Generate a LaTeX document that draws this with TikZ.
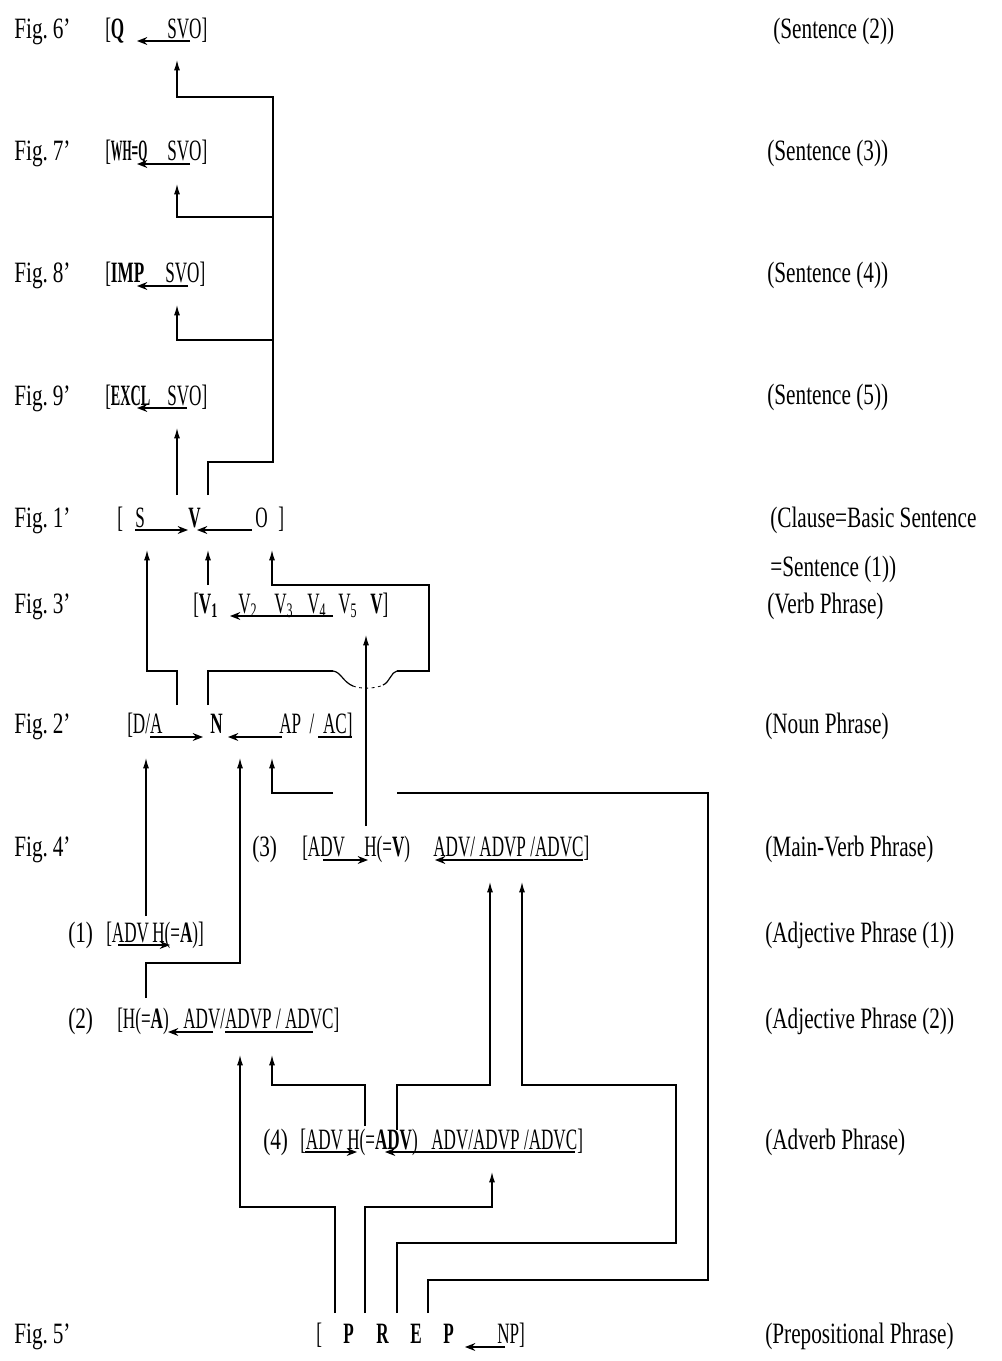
\documentclass[tikz,border=0pt]{standalone}
\usepackage{fontspec}
\usepackage{graphicx}
\setmainfont[FakeStretch=0.72]{Liberation Serif}
\newfontfamily\narrowfont[FakeStretch=0.58]{Liberation Serif}
\usetikzlibrary{arrows.meta,calc}
\newcommand{\fs}{\fontsize{21}{24}\selectfont}
\newcommand{\sq}[2]{\scalebox{#1}[1]{#2}}
\tikzset{
  txt/.style={anchor=base west, inner sep=0pt, font=\fs},
  form/.style={txt, font=\fs\narrowfont},
  wire/.style={line width=0.85pt, draw=black},
  uparr/.style={wire, -{Latex[length=2.6mm,width=1.5mm]}},
  ularr/.style={wire, -{Stealth[length=2.6mm,width=2.0mm,inset=0.9mm]}},
  hopdash/.style={wire, line width=0.6pt, dash pattern=on 2pt off 2.5pt}
}
\begin{document}
\begin{tikzpicture}[x=0.25mm,y=-0.25mm]
  \useasboundingbox (0,0) rectangle (1002,1361);

  % figure numbers
  \node[txt] (fig6) at (14,38)   {Fig.\,6'};
  \node[txt] (fig7) at (14,160)  {Fig.\,7'};
  \node[txt] (fig8) at (14,282)  {Fig.\,8'};
  \node[txt] (fig9) at (14,405)  {Fig.\,9'};
  \node[txt] (fig1) at (14,527)  {Fig.\,1'};
  \node[txt] (fig3) at (14,613)  {Fig.\,3'};
  \node[txt] (fig2) at (14,733)  {Fig.\,2'};
  \node[txt] (fig4) at (14,856)  {Fig.\,4'};
  \node[txt] (fig5) at (14,1343) {Fig.\,5'};

  % names on the right
  \node[txt] (lab6) at (773,38)   {(Sentence (2))};
  \node[txt] (lab7) at (767,160)  {(Sentence (3))};
  \node[txt] (lab8) at (767,282)  {(Sentence (4))};
  \node[txt] (lab9) at (767,404)  {(Sentence (5))};
  \node[txt] (lab1) at (770,527)  {(Clause=Basic Sentence};
  \node[txt] (lab1b) at (770,576) {=Sentence (1))};
  \node[txt] (lab3) at (767,613)  {(Verb Phrase)};
  \node[txt] (lab2) at (765,733)  {(Noun Phrase)};
  \node[txt] (lab4) at (765,856)  {(Main-Verb Phrase)};
  \node[txt] (labA1) at (765,942) {(Adjective Phrase (1))};
  \node[txt] (labA2) at (765,1028) {(Adjective Phrase (2))};
  \node[txt] (labAv) at (765,1149) {(Adverb Phrase)};
  \node[txt] (lab5) at (765,1343) {(Prepositional Phrase)};

  % sentence types
  \node[form] (q6) at (105,38)  {[\textbf{Q}};
  \node[form] (svo6) at (167,38)  {SVO]};
  \node[form] (q7) at (105,160) {[\sq{0.68}{\textbf{WH=Q}}};
  \node[form] (svo7) at (167,160) {SVO]};
  \node[form] (q8) at (105,282) {[\textbf{IMP}};
  \node[form] (svo8) at (165,282) {SVO]};
  \node[form] (q9) at (105,405) {[\sq{0.83}{\textbf{EXCL}}};
  \node[form] (svo9) at (167,405) {SVO]};

  % clause
  \node[form] (cl1) at (117,527) {[};
  \node[form] (cS) at (135,527) {S};
  \node[form] (cV) at (188,527) {\textbf{V}};
  \node[form] (cO) at (255,527) {O};
  \node[form] (cr1) at (278,527) {]};

  % verb phrase
  \node[form] (v1) at (193,613) {[\textbf{V\textsubscript{1}}};
  \node[form] (v2) at (238,613) {V\textsubscript{2}};
  \node[form] (v3) at (274,613) {V\textsubscript{3}};
  \node[form] (v4) at (307,613) {V\textsubscript{4}};
  \node[form] (v5) at (338,613) {V\textsubscript{5}};
  \node[form] (vv) at (370,613) {\textbf{V}]};

  % noun phrase
  \node[form] (da) at (127,733) {[D/A};
  \node[form] (nn) at (210,733) {\textbf{N}};
  \node[form] (apac) at (279,733) {AP\ \ /\ \ AC]};

  % main-verb phrase
  \node[txt] (n3) at (252,856) {(3)};
  \node[form] (adv3) at (302,856) {[ADV};
  \node[form] (h3) at (364,856) {H(=\textbf{V})};
  \node[form] (post3) at (433,856) {ADV/ ADVP /ADVC]};

  % adjective phrases
  \node[txt] (n1) at (68,942) {(1)};
  \node[form] (adv1) at (106,942) {[ADV};
  \node[form] (h1) at (152,942) {H(=\textbf{A})]};
  \node[txt] (n2) at (68,1028) {(2)};
  \node[form] (h2) at (117,1028) {[H(=\textbf{A})};
  \node[form] (post2) at (183,1028) {ADV/ADVP / ADVC]};

  % adverb phrase
  \node[txt] (n4) at (263,1149) {(4)};
  \node[form] (adv4) at (300,1149) {[ADV};
  \node[form] (h4) at (347,1149) {H(=\textbf{ADV})};
  \node[form] (post4) at (431,1149) {ADV/ADVP /ADVC]};

  % prepositional phrase
  \node[form] (pl) at (316,1343) {[};
  \node[form] (pP) at (343,1343) {\textbf{P}};
  \node[form] (pR) at (376,1343) {\textbf{R}};
  \node[form] (pE) at (410,1343) {\textbf{E}};
  \node[form] (pQ) at (443,1343) {\textbf{P}};
  \node[form] (np) at (497,1343) {NP]};

  % arrows under the words
  \coordinate (u6a) at (190,41);   \coordinate (u6b) at (137,41);
  \coordinate (u7a) at (190,164);  \coordinate (u7b) at (137,164);
  \coordinate (u8a) at (188,286);  \coordinate (u8b) at (137,286);
  \coordinate (u9a) at (187,408);  \coordinate (u9b) at (137,408);
  \coordinate (uSa) at (135,530);  \coordinate (uSb) at (188,530);
  \coordinate (uOa) at (252,530);  \coordinate (uOb) at (197,530);
  \coordinate (uVa) at (333,616);  \coordinate (uVb) at (230,616);
  \coordinate (uDa) at (150,737);  \coordinate (uDb) at (203,737);
  \coordinate (uAa) at (282,737);  \coordinate (uAb) at (228,737);
  \coordinate (uCa) at (318,737);  \coordinate (uCb) at (352,737);
  \coordinate (u3a) at (323,860);  \coordinate (u3b) at (368,860);
  \coordinate (u3c) at (583,860);  \coordinate (u3d) at (435,860);
  \coordinate (u1a) at (118,945);  \coordinate (u1b) at (170,945);
  \coordinate (u2a) at (213,1032); \coordinate (u2b) at (168,1032);
  \coordinate (u2c) at (225,1032); \coordinate (u2d) at (313,1032);
  \coordinate (u4a) at (305,1152); \coordinate (u4b) at (357,1152);
  \coordinate (u4c) at (575,1152); \coordinate (u4d) at (385,1152);
  \coordinate (u5a) at (505,1347); \coordinate (u5b) at (465,1347);

  \draw[ularr] (u6a) -- (u6b);
  \draw[ularr] (u7a) -- (u7b);
  \draw[ularr] (u8a) -- (u8b);
  \draw[ularr] (u9a) -- (u9b);
  \draw[ularr] (uSa) -- (uSb);
  \draw[ularr] (uOa) -- (uOb);
  \draw[ularr] (uVa) -- (uVb);
  \draw[ularr] (uDa) -- (uDb);
  \draw[ularr] (uAa) -- (uAb);
  \draw[wire]  (uCa) -- (uCb);
  \draw[ularr] (u3a) -- (u3b);
  \draw[ularr] (u3c) -- (u3d);
  \draw[ularr] (u1a) -- (u1b);
  \draw[ularr] (u2a) -- (u2b);
  \draw[wire]  (u2c) -- (u2d);
  \draw[ularr] (u4a) -- (u4b);
  \draw[ularr] (u4c) -- (u4d);
  \draw[ularr] (u5a) -- (u5b);

  % V of the clause up to the sentence types
  \coordinate (t6) at (177,60);
  \coordinate (t7) at (177,184);
  \coordinate (t8) at (177,305);
  \coordinate (t9) at (177,428);
  \coordinate (vA) at (177,495);
  \coordinate (vB) at (208,495);
  \coordinate (tr)  at (273,462);
  \coordinate (tr6) at (273,97);
  \coordinate (tr7) at (273,217);
  \coordinate (tr8) at (273,340);
  \draw[uparr] (vA) -- (t9);
  \draw[uparr] (vB) |- (tr) -- (tr6) -| (t6);
  \draw[uparr] (tr7) -| (t7);
  \draw[uparr] (tr8) -| (t8);

  % into the clause
  \coordinate (tS) at (147,550);
  \coordinate (tV) at (208,550);
  \coordinate (tO) at (272,550);
  \coordinate (v1top) at (208,585);
  \coordinate (np1) at (177,705);
  \coordinate (np2) at (208,705);
  \coordinate (hopL) at (333,671);
  \coordinate (hopR) at (397,671);
  \coordinate (oc) at (429,585);
  \draw[uparr] (v1top) -- (tV);
  \draw[uparr] (np1) -- ++(0,-34) -| (tS);
  \draw[wire] (np2) |- (hopL);
  \draw[wire] (hopL) .. controls (341,672) and (343,682) .. (353,686);
  \draw[hopdash] (353,686) .. controls (360,689) and (375,689) .. (383,685);
  \draw[wire] (383,685) .. controls (390,682) and (391,672) .. (hopR);
  \draw[uparr] (hopR) -| (oc) -| (tO);

  % main verb up to V of the verb phrase
  \coordinate (hv) at (366,826);
  \coordinate (tVV) at (366,635);
  \draw[uparr] (hv) -- (tVV);

  % into the noun phrase
  \coordinate (tDA) at (146,758);
  \coordinate (tN)  at (240,758);
  \coordinate (tAP) at (272,758);
  \coordinate (a1top) at (146,916);
  \coordinate (a2top) at (146,998);
  \coordinate (pp4) at (428,1313);
  \coordinate (rc1) at (708,1280);
  \coordinate (gapR) at (397,793);
  \coordinate (gapL) at (333,793);
  \draw[uparr] (a1top) -- (tDA);
  \draw[uparr] (a2top) -- ++(0,-35) -| (tN);
  \draw[wire] (pp4) |- (rc1) |- (gapR);
  \draw[uparr] (gapL) -| (tAP);

  % into the main-verb phrase
  \coordinate (t3a) at (490,882);
  \coordinate (t3b) at (522,882);
  \coordinate (h4b) at (397,1130);
  \coordinate (pp3) at (397,1313);
  \coordinate (rc2) at (676,1243);
  \coordinate (rc3) at (676,1085);
  \draw[uparr] (h4b) -- ++(0,-45) -| (t3a);
  \draw[uparr] (pp3) |- (rc2) -- (rc3) -| (t3b);

  % into adjective phrase (2) and the adverb phrase
  \coordinate (t2a) at (240,1055);
  \coordinate (t2b) at (272,1055);
  \coordinate (t4) at (492,1172);
  \coordinate (h4a) at (365,1126);
  \coordinate (pp1) at (335,1313);
  \coordinate (pp2) at (365,1313);
  \draw[uparr] (h4a) -- ++(0,-41) -| (t2b);
  \draw[uparr] (pp1) -- ++(0,-106) -| (t2a);
  \draw[uparr] (pp2) -- ++(0,-106) -| (t4);

\end{tikzpicture}
\end{document}
